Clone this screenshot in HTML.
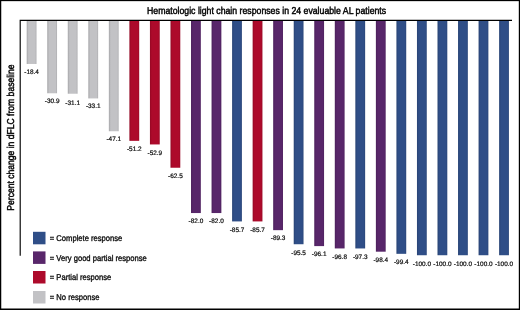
<!DOCTYPE html>
<html lang="en"><head><meta charset="utf-8"><title>Hematologic light chain responses</title>
<style>
html,body{margin:0;padding:0;background:#fff;}
body{width:520px;height:310px;overflow:hidden;}
svg{display:block;text-rendering:geometricPrecision;font-family:"Liberation Sans",sans-serif;}
.lbl{font-size:6.45px;fill:#0c0c0c;text-anchor:middle;stroke:#0c0c0c;stroke-width:0.2px;}
.leg{font-size:8.4px;fill:#0a0a0a;stroke:#0a0a0a;stroke-width:0.32px;}
</style></head><body>
<svg width="520" height="310" viewBox="0 0 520 310">
<rect x="0" y="0" width="520" height="310" fill="#fff"/>
<rect x="0" y="0" width="1.25" height="310" fill="#000"/><rect x="0" y="0" width="520" height="1.15" fill="#000"/><rect x="518.8" y="0" width="1.2" height="310" fill="#000"/><rect x="0" y="308.5" width="520" height="1.5" fill="#000"/>

<defs><linearGradient id="gg" x1="0" y1="0" x2="1" y2="0"><stop offset="0" stop-color="#a6a6a9"/><stop offset="0.2" stop-color="#c2c2c5"/><stop offset="0.85" stop-color="#c2c2c5"/><stop offset="1" stop-color="#aeaeb1"/></linearGradient><linearGradient id="gr" x1="0" y1="0" x2="1" y2="0"><stop offset="0" stop-color="#940824"/><stop offset="0.2" stop-color="#ad0a2b"/><stop offset="0.85" stop-color="#ad0a2b"/><stop offset="1" stop-color="#9b0926"/></linearGradient><linearGradient id="gp" x1="0" y1="0" x2="1" y2="0"><stop offset="0" stop-color="#4b205b"/><stop offset="0.2" stop-color="#58266a"/><stop offset="0.85" stop-color="#58266a"/><stop offset="1" stop-color="#4f225f"/></linearGradient><linearGradient id="gb" x1="0" y1="0" x2="1" y2="0"><stop offset="0" stop-color="#284374"/><stop offset="0.2" stop-color="#2f4e87"/><stop offset="0.85" stop-color="#2f4e87"/><stop offset="1" stop-color="#2a4679"/></linearGradient></defs>
<rect x="26.70" y="20.3" width="9.8" height="43.67" fill="url(#gg)"/>
<text class="lbl" transform="translate(31.60,74)">-18.4</text>
<rect x="47.24" y="20.3" width="9.8" height="72.97" fill="url(#gg)"/>
<text class="lbl" transform="translate(52.14,103)">-30.9</text>
<rect x="67.78" y="20.3" width="9.8" height="73.44" fill="url(#gg)"/>
<text class="lbl" transform="translate(72.68,105)">-31.1</text>
<rect x="88.32" y="20.3" width="9.8" height="78.13" fill="url(#gg)"/>
<text class="lbl" transform="translate(93.22,108)">-33.1</text>
<rect x="108.86" y="20.3" width="9.8" height="110.94" fill="url(#gg)"/>
<text class="lbl" transform="translate(113.76,141)">-47.1</text>
<rect x="129.40" y="20.3" width="9.8" height="120.55" fill="url(#gr)"/>
<text class="lbl" transform="translate(134.30,151)">-51.2</text>
<rect x="149.94" y="20.3" width="9.8" height="124.14" fill="url(#gr)"/>
<text class="lbl" transform="translate(154.84,155)">-52.9</text>
<rect x="170.48" y="20.3" width="9.8" height="147.44" fill="url(#gr)"/>
<text class="lbl" transform="translate(175.38,178)">-62.5</text>
<rect x="191.02" y="20.3" width="9.8" height="192.75" fill="url(#gp)"/>
<text class="lbl" transform="translate(195.92,223)">-82.0</text>
<rect x="211.56" y="20.3" width="9.8" height="192.75" fill="url(#gp)"/>
<text class="lbl" transform="translate(216.46,223)">-82.0</text>
<rect x="232.10" y="20.3" width="9.8" height="201.12" fill="url(#gb)"/>
<text class="lbl" transform="translate(237.00,232)">-85.7</text>
<rect x="252.64" y="20.3" width="9.8" height="201.12" fill="url(#gr)"/>
<text class="lbl" transform="translate(257.54,232)">-85.7</text>
<rect x="273.18" y="20.3" width="9.8" height="209.86" fill="url(#gp)"/>
<text class="lbl" transform="translate(278.08,240)">-89.3</text>
<rect x="293.72" y="20.3" width="9.8" height="223.94" fill="url(#gb)"/>
<text class="lbl" transform="translate(298.62,255)">-95.5</text>
<rect x="314.26" y="20.3" width="9.8" height="225.80" fill="url(#gp)"/>
<text class="lbl" transform="translate(319.16,256)">-96.1</text>
<rect x="334.80" y="20.3" width="9.8" height="228.14" fill="url(#gp)"/>
<text class="lbl" transform="translate(339.70,259)">-96.8</text>
<rect x="355.34" y="20.3" width="9.8" height="228.16" fill="url(#gb)"/>
<text class="lbl" transform="translate(360.24,259)">-97.3</text>
<rect x="375.88" y="20.3" width="9.8" height="231.39" fill="url(#gp)"/>
<text class="lbl" transform="translate(380.78,262)">-98.4</text>
<rect x="396.42" y="20.3" width="9.8" height="233.53" fill="url(#gb)"/>
<text class="lbl" transform="translate(401.32,264)">-99.4</text>
<rect x="416.96" y="20.3" width="9.8" height="234.94" fill="url(#gb)"/>
<text class="lbl" transform="translate(421.86,266)">-100.0</text>
<rect x="437.50" y="20.3" width="9.8" height="234.94" fill="url(#gb)"/>
<text class="lbl" transform="translate(442.40,266)">-100.0</text>
<rect x="458.04" y="20.3" width="9.8" height="234.94" fill="url(#gb)"/>
<text class="lbl" transform="translate(462.94,266)">-100.0</text>
<rect x="478.58" y="20.3" width="9.8" height="234.94" fill="url(#gb)"/>
<text class="lbl" transform="translate(483.48,266)">-100.0</text>
<rect x="499.12" y="20.3" width="9.8" height="234.94" fill="url(#gb)"/>
<text class="lbl" transform="translate(504.02,266)">-100.0</text>
<path d="M20.2 255.7 V20.3 H512" fill="none" stroke="#000" stroke-width="1.15"/>
<text transform="translate(147,14) scale(0.872,1)" font-size="10" fill="#000" stroke="#000" stroke-width="0.45">Hematologic light chain responses in 24 evaluable AL patients</text>
<text transform="translate(14.4,210.7) rotate(-90) scale(0.857,1)" font-size="10" fill="#000" stroke="#000" stroke-width="0.45">Percent change in dFLC from baseline</text>
<rect x="33" y="231.8" width="12.5" height="12.5" fill="#2f4e87"/>
<text class="leg" transform="translate(49.8,241) scale(0.908,1)">= Complete response</text>
<rect x="33" y="251.4" width="12.5" height="12.5" fill="#58266a"/>
<text class="leg" transform="translate(49.8,261) scale(0.908,1)">= Very good partial response</text>
<rect x="33" y="271.0" width="12.5" height="12.5" fill="#ad0a2b"/>
<text class="leg" transform="translate(49.8,280) scale(0.908,1)">= Partial response</text>
<rect x="33" y="291.0" width="12.5" height="12.5" fill="#c2c2c5"/>
<text class="leg" transform="translate(49.8,300) scale(0.908,1)">= No response</text>
</svg></body></html>
